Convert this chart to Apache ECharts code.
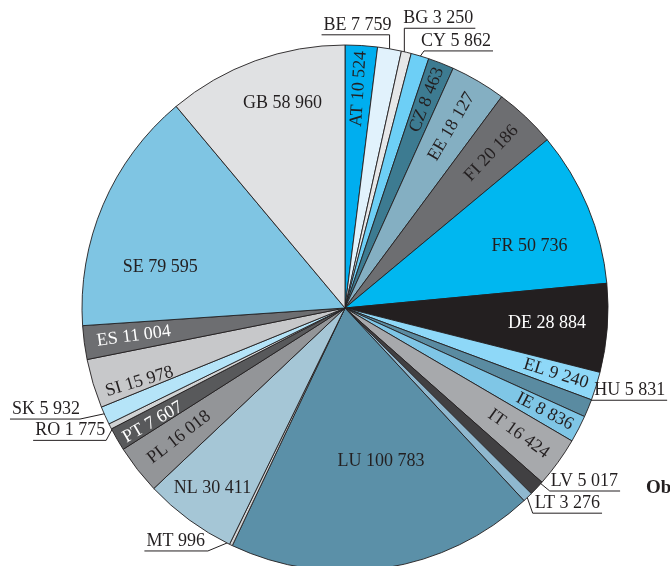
<!DOCTYPE html>
<html>
<head>
<meta charset="utf-8">
<script src="https://cdn.jsdelivr.net/npm/echarts@6/dist/echarts.min.js"></script>
<style>
  html, body { margin: 0; padding: 0; background: #fff; }
  #chart { width: 670px; height: 566px; }
</style>
</head>
<body>
<div id="chart"></div>
<script>
// slices, clockwise from 12 o'clock
var countries = ['AT', 'BE', 'BG', 'CY', 'CZ', 'EE', 'FI', 'FR', 'DE', 'EL', 'HU', 'IE', 'IT',
  'LV', 'LT', 'LU', 'MT', 'NL', 'PL', 'PT', 'RO', 'SK', 'SI', 'ES', 'SE', 'GB'];
var values = [10524, 7759, 3250, 5862, 8463, 18127, 20186, 50736, 28884, 9240, 5831, 8836, 16424,
  5017, 3276, 100783, 996, 30411, 16018, 7607, 1775, 5932, 15978, 11004, 79595, 58960];

var sliceColors = {
  AT: '#00aeef', BE: '#e1f2fc', BG: '#e6e7e8', CY: '#6dcff6', CZ: '#3d7b91', EE: '#84afc2',
  FI: '#6d6e71', FR: '#00b7f0', DE: '#231f20', EL: '#8ed8f8', HU: '#5a8ba1', IE: '#7fc6e6',
  IT: '#a7a9ac', LV: '#414042', LT: '#8fb8cf', LU: '#5b90a8', MT: '#d1d3d4', NL: '#a5c6d6',
  PL: '#939598', PT: '#58595b', RO: '#d1d3d4', SK: '#b5e4f8', SI: '#c7c8ca', ES: '#6d6e71',
  SE: '#7fc5e3', GB: '#e0e1e3'
};
var whiteText = ['DE', 'ES', 'PT'];
var horizontal = ['FR', 'DE', 'LU', 'NL', 'SE', 'GB'];

// inside labels: [fraction of radius, angle nudge in degrees]
var insideLabelPos = {
  AT: [0.835, 0], CZ: [0.85, 0], EE: [0.80, 0], FI: [0.81, 0], FR: [0.74, 4], DE: [0.77, 0],
  EL: [0.84, 0], IE: [0.855, 0], IT: [0.815, 0], LU: [0.60, -4.4], NL: [0.85, 0], PL: [0.80, 0],
  PT: [0.85, -0.8], SI: [0.83, -3], ES: [0.81, 0], SE: [0.72, -10.6], GB: [0.815, 3]
};
// outside labels sit on an underline; offsets are from the slice edge point
var callouts = {
  BE: { side: 'left', s: [0, 10], e: [0, -14], gap: -2 },
  BG: { side: 'right', s: [-2, 2], e: [-2, -24], gap: -1 },
  CY: { side: 'right', s: [-3, 5], e: [4, -5], gap: -3 },
  HU: { side: 'right', s: [-9, -7], e: [-3, -8], gap: 9 },
  LV: { side: 'right', s: [-4, -11], e: [13, 3], gap: 1 },
  LT: { side: 'right', s: [-3, -7], e: [5, 16], gap: 2 },
  MT: { side: 'left', s: [1, -4], e: [-23, 6], gap: 3 },
  RO: { side: 'left', s: [3, 1], e: [-4, 14], gap: 1 },
  SK: { side: 'left', s: [5, -3], e: [-25, 3.5], gap: 0 }
};

var pieCenter = [345, 308];
var pieRadius = 263;

function fmt(v) {
  return String(v).replace(/\B(?=(\d{3})+(?!\d))/g, ' ');
}

var pieData = countries.map(function (name, i) {
  var out = !!callouts[name];
  return {
    name: name,
    value: values[i],
    itemStyle: { color: sliceColors[name] },
    label: {
      position: out ? 'outside' : 'inside',
      rotate: (out || horizontal.indexOf(name) >= 0) ? 0 : 'radial',
      color: whiteText.indexOf(name) >= 0 ? '#ffffff' : '#231f20'
    },
    labelLine: { show: out }
  };
});

var chart = echarts.init(document.getElementById('chart'));

function placeLabel(p) {
  var name = countries[p.dataIndex];
  var rect = p.labelRect;
  var c = callouts[name];
  if (c) {
    var a = p.labelLinePoints[0];
    var s = [a[0] + c.s[0], a[1] + c.s[1]];
    var e = [a[0] + c.e[0], a[1] + c.e[1]];
    var dir = c.side === 'left' ? -1 : 1;
    var tx = e[0] + dir * c.gap;
    var end = [tx + dir * (rect.width + 2), e[1]];
    return {
      x: tx, y: e[1] - 1,
      align: dir < 0 ? 'right' : 'left',
      verticalAlign: 'bottom',
      labelLinePoints: [s, e, end]
    };
  }
  var pos = insideLabelPos[name];
  var mx = rect.x + rect.width / 2 - pieCenter[0];
  var my = rect.y + rect.height / 2 - pieCenter[1];
  var ang = Math.atan2(my, mx) + pos[1] * Math.PI / 180;
  var d = pos[0] * pieRadius;
  return {
    x: pieCenter[0] + d * Math.cos(ang),
    y: pieCenter[1] + d * Math.sin(ang),
    align: 'center',
    verticalAlign: 'middle'
  };
}

var option = {
  animation: false,
  backgroundColor: '#ffffff',
  textStyle: { fontFamily: 'Liberation Serif' },
  graphic: [{
    type: 'text',
    left: 646,
    top: 479,
    style: { text: 'Obr. 1', font: 'bold 19px "Liberation Serif"', fill: '#231f20' }
  }],
  series: [{
    type: 'pie',
    center: pieCenter,
    radius: pieRadius,
    startAngle: 90,
    clockwise: true,
    avoidLabelOverlap: false,
    itemStyle: { borderColor: '#231f20', borderWidth: 0.9 },
    emphasis: { disabled: true },
    label: {
      show: true,
      fontFamily: 'Liberation Serif',
      fontSize: 18,
      color: '#231f20',
      formatter: function (p) { return p.name + ' ' + fmt(p.value); }
    },
    labelLine: {
      length: 10, length2: 10,
      lineStyle: { color: '#231f20', width: 1 }
    },
    labelLayout: placeLabel,
    data: pieData
  }]
};
chart.setOption(option);
</script>
</body>
</html>
